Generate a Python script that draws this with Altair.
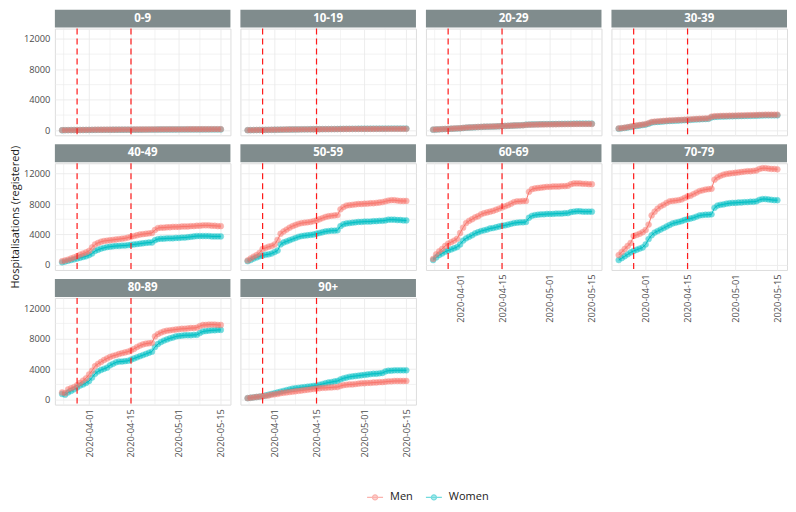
import altair as alt
import pandas as pd

AGE_GROUPS = ["0-9", "10-19", "20-29", "30-39", "40-49", "50-59", "60-69", "70-79", "80-89", "90+"]
SEXES = ["Men", "Women"]
COLORS = ["#F8766D", "#00BFC4"]
DATES = pd.date_range("2020-03-23", "2020-05-15").strftime("%Y-%m-%d").tolist()
EVENT_DATES = ["2020-03-28", "2020-04-15"]
MAJOR_TICKS = ["2020-04-01", "2020-04-15", "2020-05-01", "2020-05-15"]
MINOR_TICKS = ["2020-03-23T12:00:00Z", "2020-04-08", "2020-04-23", "2020-05-08"]
Y_TICKS = [0, 4000, 8000, 12000]
Y_MINOR = [2000, 6000, 10000]

MEN = {
    "0-9": [20, 25, 30, 35, 40, 45, 50, 55, 60, 65,
            70, 75, 80, 82, 85, 88, 90, 92, 95, 98,
            100, 102, 104, 106, 108, 110, 112, 114, 116, 118,
            120, 125, 128, 130, 132, 134, 135, 136, 137, 138,
            139, 140, 141, 142, 143, 144, 145, 146, 147, 148,
            149, 150, 150, 150],
    "10-19": [25, 30, 38, 45, 52, 60, 66, 72, 78, 84,
              92, 100, 106, 110, 114, 118, 122, 126, 130, 133,
              136, 139, 142, 145, 148, 151, 154, 157, 160, 162,
              164, 172, 176, 179, 181, 183, 185, 187, 189, 190,
              191, 192, 193, 194, 195, 196, 197, 198, 199, 200,
              200, 200, 200, 200],
    "20-29": [100, 120, 140, 160, 180, 200, 220, 240, 260, 280,
              320, 360, 380, 400, 420, 440, 460, 480, 490, 500,
              510, 520, 540, 560, 580, 600, 620, 640, 650, 660,
              670, 720, 740, 750, 760, 770, 775, 780, 785, 790,
              795, 800, 805, 810, 815, 820, 825, 830, 835, 840,
              840, 840, 840, 840],
    "30-39": [250, 300, 350, 420, 500, 580, 640, 700, 760, 820,
              950, 1100, 1150, 1180, 1210, 1240, 1270, 1300, 1320, 1340,
              1360, 1380, 1400, 1420, 1450, 1480, 1500, 1520, 1540, 1560,
              1580, 1800, 1850, 1870, 1890, 1900, 1910, 1920, 1930, 1940,
              1950, 1960, 1970, 1980, 1990, 2000, 2010, 2030, 2040, 2050,
              2050, 2050, 2050, 2050],
    "40-49": [500, 600, 700, 850, 1000, 1150, 1350, 1500, 1650, 1850,
              2300, 2700, 2900, 3050, 3150, 3200, 3250, 3300, 3350, 3400,
              3450, 3500, 3600, 3700, 3800, 3900, 4000, 4050, 4100, 4150,
              4200, 4600, 4850, 4900, 4900, 4950, 4950, 5000, 5000, 5000,
              5050, 5050, 5050, 5100, 5100, 5150, 5150, 5200, 5200, 5200,
              5150, 5150, 5100, 5100],
    "50-59": [600, 850, 1100, 1300, 1600, 2100, 2250, 2400, 2500, 2700,
              3300, 4100, 4400, 4650, 4900, 5100, 5250, 5400, 5500, 5550,
              5600, 5650, 5750, 5850, 6000, 6150, 6300, 6400, 6450, 6500,
              6550, 7300, 7600, 7800, 7850, 7900, 7950, 8000, 8000, 8050,
              8050, 8100, 8100, 8150, 8200, 8250, 8350, 8450, 8500, 8500,
              8450, 8400, 8400, 8400],
    "60-69": [800, 1400, 1800, 2100, 2500, 2800, 3000, 3200, 3450, 4200,
              4900, 5500, 5800, 6000, 6250, 6400, 6650, 6800, 6900, 7000,
              7100, 7250, 7400, 7550, 7700, 7850, 8050, 8250, 8350, 8350,
              8400, 8400, 9600, 9950, 10050, 10100, 10150, 10200, 10250, 10250,
              10300, 10300, 10300, 10350, 10350, 10400, 10600, 10700, 10700, 10700,
              10650, 10650, 10600, 10600],
    "70-79": [1300, 1700, 2100, 2500, 2900, 3800, 3950, 4100, 4300, 4600,
              5300, 6500, 7000, 7400, 7700, 7900, 8150, 8350, 8400, 8450,
              8500, 8600, 8800, 9000, 9100, 9300, 9500, 9700, 9800, 9900,
              9950, 10000, 11200, 11500, 11700, 11850, 11950, 12000, 12050, 12100,
              12150, 12200, 12250, 12300, 12300, 12350, 12400, 12600, 12700, 12700,
              12650, 12600, 12600, 12550],
    "80-89": [950, 850, 1350, 1500, 1650, 1900, 2200, 2500, 2800, 3300,
              3800, 4400, 4700, 4950, 5200, 5400, 5600, 5750, 5850, 6000,
              6100, 6200, 6300, 6450, 6650, 6900, 7100, 7250, 7350, 7400,
              7450, 8300, 8600, 8800, 8950, 9050, 9100, 9150, 9200, 9250,
              9300, 9300, 9350, 9400, 9400, 9450, 9650, 9800, 9800, 9850,
              9850, 9850, 9800, 9800],
    "90+": [200, 250, 300, 350, 400, 450, 500, 550, 650, 700,
            750, 850, 900, 950, 1000, 1050, 1100, 1150, 1200, 1250,
            1300, 1350, 1400, 1450, 1500, 1550, 1550, 1600, 1600, 1650,
            1650, 1800, 1900, 1950, 2000, 2000, 2050, 2100, 2150, 2150,
            2200, 2200, 2250, 2250, 2300, 2300, 2350, 2400, 2400, 2450,
            2450, 2450, 2450, 2450],
}

WOMEN = {
    "0-9": [15, 20, 25, 30, 34, 38, 42, 46, 50, 54,
            58, 62, 66, 68, 70, 72, 74, 76, 78, 80,
            82, 84, 86, 88, 90, 92, 94, 96, 98, 100,
            102, 106, 108, 110, 112, 113, 114, 115, 116, 117,
            118, 119, 120, 121, 122, 123, 124, 125, 126, 127,
            128, 128, 128, 128],
    "10-19": [20, 26, 33, 40, 47, 54, 60, 66, 72, 78,
              86, 94, 100, 105, 110, 115, 120, 125, 130, 134,
              138, 142, 146, 150, 154, 158, 162, 166, 170, 173,
              176, 186, 191, 195, 198, 201, 204, 207, 210, 212,
              214, 216, 218, 220, 222, 224, 226, 228, 230, 232,
              232, 232, 232, 232],
    "20-29": [90, 110, 130, 150, 170, 190, 210, 230, 250, 270,
              310, 350, 370, 390, 410, 430, 450, 470, 480, 490,
              500, 515, 535, 555, 575, 595, 615, 635, 650, 665,
              680, 740, 760, 775, 785, 795, 805, 815, 820, 825,
              830, 835, 840, 845, 850, 855, 860, 870, 875, 880,
              880, 880, 880, 880],
    "30-39": [220, 270, 320, 380, 450, 520, 580, 640, 700, 760,
              880, 1020, 1080, 1110, 1140, 1170, 1200, 1230, 1250, 1270,
              1290, 1310, 1330, 1350, 1380, 1410, 1430, 1450, 1470, 1490,
              1510, 1700, 1760, 1790, 1810, 1820, 1830, 1840, 1850, 1860,
              1870, 1880, 1890, 1900, 1910, 1920, 1930, 1950, 1960, 1970,
              1970, 1970, 1970, 1970],
    "40-49": [350, 450, 550, 650, 750, 850, 950, 1050, 1150, 1300,
              1500, 1850, 2000, 2150, 2250, 2350, 2400, 2450, 2500, 2500,
              2550, 2550, 2600, 2650, 2700, 2750, 2800, 2850, 2900, 2950,
              2950, 3250, 3400, 3450, 3450, 3500, 3500, 3500, 3550, 3550,
              3600, 3600, 3650, 3700, 3750, 3800, 3800, 3800, 3800, 3800,
              3750, 3750, 3750, 3750],
    "50-59": [500, 650, 850, 1000, 1150, 1250, 1350, 1400, 1500, 1700,
              1900, 2700, 2950, 3100, 3250, 3400, 3550, 3700, 3800, 3850,
              3900, 3950, 4000, 4100, 4200, 4300, 4400, 4450, 4500, 4500,
              4550, 5100, 5350, 5450, 5500, 5550, 5600, 5650, 5650, 5700,
              5700, 5700, 5750, 5750, 5800, 5800, 5850, 5950, 5950, 5950,
              5900, 5900, 5850, 5850],
    "60-69": [650, 1000, 1300, 1500, 1750, 1900, 2050, 2200, 2350, 2700,
              3200, 3500, 3700, 3900, 4150, 4300, 4450, 4550, 4650, 4800,
              4850, 4950, 5050, 5150, 5200, 5300, 5400, 5500, 5550, 5600,
              5600, 5650, 6200, 6450, 6550, 6600, 6650, 6650, 6700, 6700,
              6700, 6750, 6750, 6750, 6800, 6800, 6950, 7000, 7050, 7050,
              7000, 7000, 7000, 7000],
    "70-79": [650, 900, 1150, 1400, 1650, 1850, 2000, 2150, 2300, 2700,
              3400, 3900, 4250, 4450, 4650, 4850, 5050, 5250, 5450, 5550,
              5650, 5750, 5900, 6000, 6100, 6200, 6350, 6500, 6550, 6600,
              6600, 6650, 7500, 7800, 7900, 7950, 8050, 8100, 8150, 8150,
              8200, 8200, 8250, 8250, 8300, 8300, 8350, 8550, 8650, 8650,
              8600, 8550, 8500, 8500],
    "80-89": [750, 650, 950, 1150, 1350, 1600, 1850, 2000, 2200, 2450,
              2900, 3400, 3700, 3900, 4050, 4200, 4500, 4700, 4900, 5000,
              5000, 5050, 5100, 5250, 5400, 5550, 5700, 5850, 6000, 6150,
              6300, 6900, 7300, 7550, 7750, 7900, 8050, 8150, 8300, 8350,
              8400, 8450, 8450, 8450, 8500, 8500, 8750, 8950, 9000, 9050,
              9100, 9100, 9150, 9150],
    "90+": [200, 250, 300, 350, 400, 450, 550, 650, 750, 850,
            950, 1050, 1150, 1250, 1350, 1450, 1500, 1550, 1600, 1650,
            1700, 1750, 1800, 1850, 1950, 2050, 2150, 2250, 2300, 2400,
            2450, 2650, 2800, 2900, 3000, 3050, 3100, 3150, 3200, 3250,
            3300, 3350, 3400, 3400, 3450, 3500, 3700, 3800, 3800, 3850,
            3850, 3850, 3850, 3850],
}

rows = []
for sex, table in (("Women", WOMEN), ("Men", MEN)):
    for g in AGE_GROUPS:
        for dt, v in zip(DATES, table[g]):
            rows.append({"age": g, "sex": sex, "date": dt, "value": v})
df = pd.DataFrame(rows)
events = pd.DataFrame({"date": EVENT_DATES})
xminor = pd.DataFrame({"date": MINOR_TICKS})
yminor = pd.DataFrame({"value": Y_MINOR})


def dtobj(s):
    y, m, d = (int(p) for p in s.split("-"))
    return alt.DateTime(year=y, month=m, date=d, utc=True)


X_VALUES = [dtobj(s) for s in MAJOR_TICKS]
XDOMAIN = [alt.DateTime(year=2020, month=3, date=20, hours=14, utc=True),
           alt.DateTime(year=2020, month=5, date=18, hours=5, utc=True)]

W, H = 176, 107
FONT = "Open Sans"
LABEL_COLOR = "#4D4D4D"
GRID = "#EBEBEB"

xscale = alt.Scale(type="utc", domain=XDOMAIN)
yscale = alt.Scale(domain=[-650, 13350], nice=False, zero=False)
cscale = alt.Scale(domain=SEXES, range=COLORS)

SYM = "M-1,0L1,0M0.32,0A0.32,0.32,0,1,1,-0.32,0A0.32,0.32,0,1,1,0.32,0"
LEGEND = alt.Legend(orient="none", legendX=312, legendY=461, direction="horizontal",
                    title=None, symbolType=SYM, symbolSize=256, symbolStrokeWidth=1.2,
                    labelFontSize=11, labelFont=FONT, labelColor="#1A1A1A",
                    columnPadding=10, labelOffset=6)


def panel(g, show_x, show_y, y_title):
    xaxis = alt.Axis(values=X_VALUES, labels=show_x,
                     labelExpr="utcFormat(datum.value, '%Y-%m-%d')",
                     labelAngle=270, labelFontSize=9.3, labelFont=FONT, labelColor=LABEL_COLOR,
                     labelPadding=4, labelOverlap=False, ticks=False, domain=False, grid=True,
                     gridColor=GRID, gridWidth=0.9, title=None)
    yaxis = alt.Axis(values=Y_TICKS, format="d",
                     labels=show_y, labelOverlap=False, ticks=False, domain=False, grid=True,
                     gridColor=GRID, gridWidth=0.9,
                     title="Hospitalisations (registered)" if y_title else None,
                     titleFontSize=11, titleFont=FONT, titleFontWeight="normal",
                     titleColor="#1A1A1A", titlePadding=3, labelPadding=5,
                     labelFontSize=9.3, labelFont=FONT, labelColor=LABEL_COLOR)
    X = lambda f="date:T": alt.X(f, scale=xscale, axis=xaxis)
    Y = lambda f="value:Q": alt.Y(f, scale=yscale, axis=yaxis)

    gx = alt.Chart(xminor).mark_rule(color=GRID, strokeWidth=0.6).encode(x=X())
    gy = alt.Chart(yminor).mark_rule(color=GRID, strokeWidth=0.6).encode(y=Y())
    d = df[df["age"] == g]
    base = alt.Chart(d)
    line = base.mark_line(strokeWidth=1).encode(
        x=X(), y=Y(),
        stroke=alt.Stroke("sex:N", scale=cscale, legend=LEGEND),
        detail="sex:N",
    )
    pts = base.mark_point(filled=True, size=34, opacity=0.55, strokeWidth=0.6).encode(
        x=X(), y=Y(),
        fill=alt.Fill("sex:N", scale=cscale, legend=LEGEND),
        stroke=alt.Stroke("sex:N", scale=cscale, legend=LEGEND),
    )
    rules = alt.Chart(events).mark_rule(color="#FF1A1A", strokeDash=[6, 4], strokeWidth=1.2).encode(
        x=X()
    )
    lab = pd.DataFrame({"age": [g]})
    strip = alt.Chart(lab).mark_rect(color="#808C8D").encode(
        x=alt.value(0), x2=alt.value(W), y=alt.value(-19), y2=alt.value(-1)
    )
    stext = alt.Chart(lab).mark_text(color="white", fontWeight="bold", fontSize=11.5, font=FONT).encode(
        x=alt.value(W / 2), y=alt.value(-10), text="age:N"
    )
    return alt.layer(gx, gy, line, pts, rules, strip, stext).properties(width=W, height=H)


NCOL = 4
panels = []
for i, g in enumerate(AGE_GROUPS):
    col = i % NCOL
    panels.append(panel(g, show_x=(i + NCOL >= len(AGE_GROUPS)), show_y=(col == 0),
                        y_title=(g == "40-49")))

chart = alt.concat(*panels, columns=NCOL, spacing={"row": 28, "column": 10}, bounds="flush").resolve_scale(
    fill="shared", stroke="shared"
).resolve_legend(fill="shared", stroke="shared").properties(
    padding={"left": 0, "top": 0, "right": 0, "bottom": 0}
).configure_view(strokeWidth=0).configure(background="white")

chart.save("out.html", embed_options={"renderer": "svg", "actions": False})
